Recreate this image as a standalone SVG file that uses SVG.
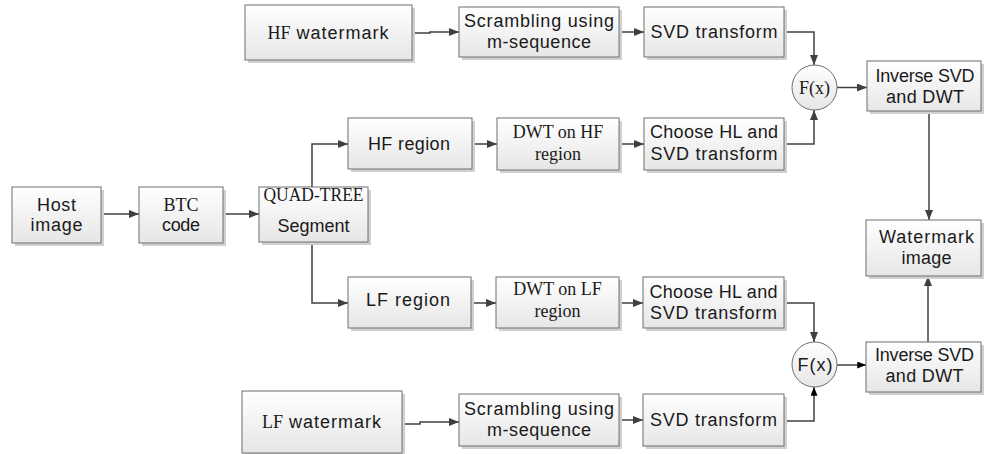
<svg xmlns="http://www.w3.org/2000/svg" width="984" height="454" viewBox="0 0 984 454">
<defs>
<linearGradient id="g" x1="0" y1="0" x2="0" y2="1">
<stop offset="0" stop-color="#ffffff"/>
<stop offset="1" stop-color="#e6e6e6"/>
</linearGradient>
<marker id="a" viewBox="0 0 10 8" refX="10" refY="4" markerWidth="10" markerHeight="8" markerUnits="userSpaceOnUse" orient="auto">
<path d="M0,0 L10,4 L0,8 Z" fill="#404040"/>
</marker>
<marker id="b" viewBox="0 0 10 8" refX="10" refY="4" markerWidth="10" markerHeight="7" markerUnits="userSpaceOnUse" orient="auto">
<path d="M0,0 L10,4 L0,8 Z" fill="#000000"/>
</marker>
</defs>
<style>
.box{fill:url(#g);stroke:#6e6e6e;stroke-width:1}
.sh{fill:#d0d0d0}
.s{font-family:"Liberation Sans",Arial,sans-serif;font-size:18px;fill:#1a1a1a;text-anchor:middle}
.r{font-family:"Liberation Serif","Times New Roman",serif;font-size:18px;fill:#1a1a1a;text-anchor:middle}
.rf{font-family:"Liberation Serif","Times New Roman",serif;font-size:18px}
.c{fill:none;stroke:#404040;stroke-width:1.5}
</style>
<rect width="984" height="454" fill="#ffffff"/>
<g id="connectors">
<path class="c" d="M412,33 H430 V32 H459" marker-end="url(#a)"/>
<path class="c" d="M619,32 H644" marker-end="url(#a)"/>
<path class="c" d="M784,32 H814 V65" marker-end="url(#a)"/>
<path class="c" d="M784,144 H814 V110" marker-end="url(#a)"/>
<path class="c" d="M837,87.5 H867" marker-end="url(#a)"/>
<path class="c" d="M929,111 V220" marker-end="url(#a)"/>
<path class="c" d="M101,214 H139" marker-end="url(#a)"/>
<path class="c" d="M223,214 H259" marker-end="url(#a)"/>
<path class="c" d="M312,187 V144 H348" marker-end="url(#a)"/>
<path class="c" d="M472,144 H497" marker-end="url(#a)"/>
<path class="c" d="M619,144 H644" marker-end="url(#a)"/>
<path class="c" d="M312,242 V303 H348" marker-end="url(#a)"/>
<path class="c" d="M471,303 H496" marker-end="url(#a)"/>
<path class="c" d="M619,303 H643" marker-end="url(#a)"/>
<path class="c" d="M784,303 H814 V342" marker-end="url(#a)"/>
<path class="c" d="M402,424 H420 V422 H459" marker-end="url(#a)"/>
<path class="c" d="M619,420 H643" marker-end="url(#a)"/>
<path class="c" d="M784,421 H814 V387" marker-end="url(#b)"/>
<path class="c" d="M837,365 H866" marker-end="url(#b)"/>
<path class="c" d="M928,342 V276" marker-end="url(#a)"/>
</g>
<g id="hf-watermark">
<rect class="sh" x="248" y="8" width="167" height="55"/>
<rect class="box" x="245" y="5" width="167" height="55"/>
<text x="328.5" y="39" class="s"><tspan class="rf">HF</tspan><tspan letter-spacing="1"> watermark</tspan></text>
</g>
<g id="scrambling-hf">
<rect class="sh" x="462" y="10" width="160" height="50"/>
<rect class="box" x="459" y="7" width="160" height="50"/>
<text x="539" y="27" class="s" textLength="150" lengthAdjust="spacing">Scrambling using</text>
<text x="539" y="48" class="s" textLength="104" lengthAdjust="spacing">m-sequence</text>
</g>
<g id="svd-hf">
<rect class="sh" x="647" y="10" width="140" height="50"/>
<rect class="box" x="644" y="7" width="140" height="50"/>
<text x="714" y="38" class="s" textLength="127" lengthAdjust="spacing">SVD transform</text>
</g>
<g id="fx-hf">
<circle cx="814.5" cy="87.5" r="22.5" class="box"/>
<text x="814.5" y="94" class="r">F(x)</text>
</g>
<g id="inverse-hf">
<rect class="sh" x="870" y="64" width="114" height="50"/>
<rect class="box" x="867" y="61" width="114" height="50"/>
<text x="925" y="82" class="s" textLength="99" lengthAdjust="spacing">Inverse SVD</text>
<text x="925" y="103" class="s" textLength="78" lengthAdjust="spacing">and DWT</text>
</g>
<g id="hf-region">
<rect class="sh" x="351" y="121" width="124" height="51"/>
<rect class="box" x="348" y="118" width="124" height="51"/>
<text x="409" y="150" class="s" textLength="82" lengthAdjust="spacing">HF region</text>
</g>
<g id="dwt-hf">
<rect class="sh" x="500" y="121" width="122" height="52"/>
<rect class="box" x="497" y="118" width="122" height="52"/>
<text x="558" y="138" class="r">DWT on HF</text>
<text x="558" y="160" class="r">region</text>
</g>
<g id="choose-hf">
<rect class="sh" x="647" y="121" width="140" height="52"/>
<rect class="box" x="644" y="118" width="140" height="52"/>
<text x="714" y="138" class="s" textLength="128" lengthAdjust="spacing">Choose HL and</text>
<text x="714" y="160" class="s" textLength="127" lengthAdjust="spacing">SVD transform</text>
</g>
<g id="host">
<rect class="sh" x="15" y="190" width="89" height="56"/>
<rect class="box" x="12" y="187" width="89" height="56"/>
<text x="56.5" y="211" class="s" textLength="39" lengthAdjust="spacing">Host</text>
<text x="56.5" y="231" class="s" textLength="52" lengthAdjust="spacing">image</text>
</g>
<g id="btc">
<rect class="sh" x="142" y="190" width="84" height="56"/>
<rect class="box" x="139" y="187" width="84" height="56"/>
<text x="181" y="211" class="r">BTC</text>
<text x="181" y="231" class="s" textLength="38" lengthAdjust="spacing">code</text>
</g>
<g id="quadtree">
<rect class="sh" x="262" y="190" width="109" height="55"/>
<rect class="box" x="259" y="187" width="109" height="55"/>
<text x="313.5" y="201" class="r" textLength="100" lengthAdjust="spacingAndGlyphs">QUAD-TREE</text>
<text x="313.5" y="232" class="s" textLength="72" lengthAdjust="spacing">Segment</text>
</g>
<g id="watermark-image">
<rect class="sh" x="869" y="223" width="115" height="56"/>
<rect class="box" x="866" y="220" width="115" height="56"/>
<text x="926.5" y="243" class="s" textLength="95" lengthAdjust="spacing">Watermark</text>
<text x="926.5" y="264" class="s" textLength="50" lengthAdjust="spacing">image</text>
</g>
<g id="lf-region">
<rect class="sh" x="351" y="280" width="123" height="51"/>
<rect class="box" x="348" y="277" width="123" height="51"/>
<text x="408" y="306" class="s" textLength="84" lengthAdjust="spacing">LF region</text>
</g>
<g id="dwt-lf">
<rect class="sh" x="499" y="280" width="123" height="51"/>
<rect class="box" x="496" y="277" width="123" height="51"/>
<text x="557.5" y="295" class="r">DWT on LF</text>
<text x="557.5" y="317" class="r">region</text>
</g>
<g id="choose-lf">
<rect class="sh" x="646" y="280" width="141" height="51"/>
<rect class="box" x="643" y="277" width="141" height="51"/>
<text x="713.5" y="298" class="s" textLength="128" lengthAdjust="spacing">Choose HL and</text>
<text x="713.5" y="319" class="s" textLength="127" lengthAdjust="spacing">SVD transform</text>
</g>
<g id="fx-lf">
<circle cx="814.5" cy="364.5" r="22.5" class="box"/>
<text x="815" y="371" class="s" textLength="35" lengthAdjust="spacing">F(x)</text>
</g>
<g id="inverse-lf">
<rect class="sh" x="869" y="345" width="115" height="50"/>
<rect class="box" x="866" y="342" width="115" height="50"/>
<text x="924.5" y="361" class="s" textLength="99" lengthAdjust="spacing">Inverse SVD</text>
<text x="924.5" y="382" class="s" textLength="78" lengthAdjust="spacing">and DWT</text>
</g>
<g id="lf-watermark">
<rect class="sh" x="245" y="394" width="160" height="62"/>
<rect class="box" x="242" y="391" width="160" height="62"/>
<text x="322" y="428" class="s"><tspan class="rf">LF</tspan><tspan letter-spacing="1"> watermark</tspan></text>
</g>
<g id="scrambling-lf">
<rect class="sh" x="462" y="397" width="160" height="52"/>
<rect class="box" x="459" y="394" width="160" height="52"/>
<text x="539" y="415" class="s" textLength="150" lengthAdjust="spacing">Scrambling using</text>
<text x="539" y="436" class="s" textLength="104" lengthAdjust="spacing">m-sequence</text>
</g>
<g id="svd-lf">
<rect class="sh" x="646" y="397" width="141" height="52"/>
<rect class="box" x="643" y="394" width="141" height="52"/>
<text x="713.5" y="426" class="s" textLength="127" lengthAdjust="spacing">SVD transform</text>
</g>
</svg>
